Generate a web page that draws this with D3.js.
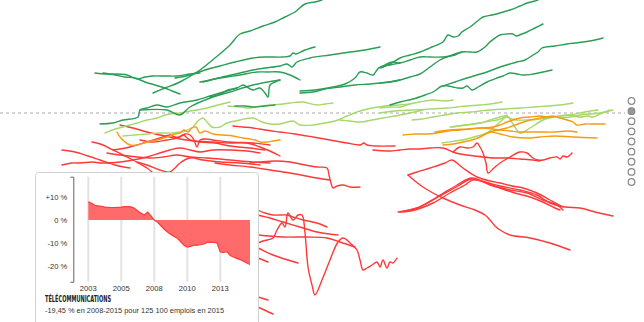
<!DOCTYPE html>
<html><head><meta charset="utf-8">
<script src="https://cdn.jsdelivr.net/npm/d3@7"></script>
<style>body{margin:0;background:#fff;}svg{display:block;font-family:"Liberation Sans",Arial,sans-serif;}</style>
</head><body><svg id="c" width="644" height="322"></svg>
<script>
// Sector trajectories: [position, % change] pairs
const darkGreen = [
 [[76.5,10],[82.5,12.5],[90,15.5],[100,21.5],[107.5,27.5],[115,34],[120,39.5],[125,41],[131.5,43.5],[137.5,45.5],[142.5,48],[147.5,50.5],[152.5,54.5],[157.5,55.5],[161,56.5]],
 [[47.5,20],[52.5,19.5],[57.5,19.5],[63.5,19],[69,17],[72.5,18],[76.5,18.5],[82.5,18.5],[88.5,18.5],[95,19.5],[100,20]],
 [[51.5,20],[57.5,19],[62.5,18],[67.5,17.5],[72.5,15.5],[77.5,14],[82.5,12.5],[86,11],[90,9.5]],
 [[87.5,17.5],[95,19],[102.5,21.5],[110,23.5],[117.5,25.5],[126.5,27.5],[132.5,28],[141.5,28],[145,28.5],[146.5,30],[148,29.5],[152.5,31.5],[157.5,33]],
 [[100,15.5],[105,16.5],[113.5,18.5],[120,20],[126.5,21.5],[132.5,22.5],[140,23.5],[143.5,24.5],[146,23],[148.5,25.5],[155,27.5],[165,29],[175,30.5],[182.5,31.5],[190,33]],
 [[101.5,15.5],[107.5,17],[113.5,18],[120,19],[128.5,20.5],[133.5,20.5],[140,20.5],[145,19],[150,16.5]],
 [[105,8],[109,9],[114,11.5],[118.5,12.5],[121.5,14],[123.5,13],[126.5,11.5],[130,12.5],[132.5,10],[134,8],[135,14],[137.5,15.5],[140,16.5]],
 [[50,-5.5],[56.5,-5],[61.5,-3.5],[69,-2],[70,1.5],[73.5,2.5],[78.5,4],[83.5,3],[90,5],[98.5,6.5],[105,8.5],[110,10],[115,11.5],[118.5,12.5]],
 [[70,1.5],[83.5,1.5],[90,-1],[95,3],[106.5,8],[115,10.5],[126.5,14],[140,16.5]],
 [[150,11],[157.5,11.5],[166.5,13],[172.5,14.5],[177.5,17.5],[180,20.5],[183.5,20],[186.5,19],[188.5,21.5],[190,23],[195,24],[200,25]],
 [[150,10],[156.5,10.5],[162.5,12],[170,13],[177.5,14],[185,14.5],[190,15],[197.5,16],[200,16.5]],
 [[190,22.5],[195,24.5],[200,27.5],[205,29],[210,30.5],[216,33],[221.5,35.5],[224,39],[226.5,38],[229,38.5],[231,40.5],[235,43],[240,47],[241.5,48],[246,49],[250,50],[255,51.5],[260,53.5],[263.5,55],[267.5,56],[269,56.5]],
 [[191.5,23.5],[196,25.5],[200,25],[205,26.5],[210,28],[215,28],[221.5,28],[227.5,29],[231,30.5],[235,30.5],[238.5,30.5],[242.5,33],[245,35.5],[250,39],[253.5,39.5],[256.5,39.5],[258,38.5],[261,39.5],[263.5,40.5],[267.5,42.5],[271.5,44.5]],
 [[190,15],[195,15.5],[200,16.5],[205,18],[210,19.5],[215,23],[220,26.5],[223.5,28],[227.5,29.5],[231,30.5]],
 [[221.5,13.5],[227.5,15.5],[233.5,17.5],[238.5,19],[243.5,20.5],[250,23],[255,24.5],[258.5,25.5],[262.5,26.5],[266.5,29],[269,30.5],[271,32.5],[277.5,33.5],[283.5,34.5],[287.5,35],[291.5,35.5],[297.5,36.5],[301.5,37.5]],
 [[195,4],[200,5.5],[206.5,7],[212.5,9],[216.5,10.5],[221,13.5],[224,13.5],[226.5,13],[229,12.5],[231.5,12.5],[233.5,13.5],[236,11.5],[239,13],[243.5,15.5],[248.5,17.5],[251.5,18.5],[255,20],[258.5,19.5],[261.5,19],[266.5,19.5],[271.5,20.5],[276,21.5]],
 [[117.5,3.5],[122.5,3.5],[127.5,3],[132.5,3.5],[137.5,4]]
];
const lightGreen = [
 [[52.5,-10],[57.5,-8],[61.5,-7],[65,-6],[68.5,-5],[73.5,-3.5],[78.5,-2.5],[82.5,-1],[85,-0.5],[90,0],[95,1],[98.5,1.5],[103.5,2.5],[109,4],[115,5.5]],
 [[61.5,-11.5],[67.5,-11],[73.5,-10.5],[80,-10],[86,-10],[92.5,-9],[96.5,-7],[99,-4],[101.5,-2.5],[103.5,-4.5],[106,-7],[110,-7],[113.5,-5],[120,-3.5],[126.5,-2.5],[131,-4.5],[135,-5.5],[140,-5.5],[146.5,-4],[150,-6],[156.5,-6],[162.5,-5],[167.5,-4],[173.5,-1.5],[180,1],[186,2.5],[192.5,3.5],[199,4],[205,4.5]],
 [[114,3.5],[120,3],[125,2.5],[130,3.5],[135,4],[141.5,4.5],[145,5],[151.5,5.5],[158.5,4],[162.5,4.5],[166.5,5]],
 [[170,-3.5],[175,-4],[180,-4.5],[186,-3.5],[191.5,-2.5],[197.5,-1.5],[205,0],[211.5,1.5]],
 [[190,2.5],[195,3],[200,3],[205,4.5],[210,5.5],[216.5,6.5],[222.5,6],[226.5,6.5]],
 [[190,0],[197.5,1],[206.5,1.5],[215,2],[223.5,2.5],[228.5,3],[233.5,3.5],[240,4],[245,4.5],[251,5.5]],
 [[206,-3.5],[211,-3],[216.5,-2],[222.5,-1],[228.5,0],[235,0.5],[240,1],[245,1.5],[252.5,2],[260,2.5],[267.5,3],[273.5,3.5],[280,4],[286.5,5]],
 [[226,-7],[232.5,-6],[240,-5],[245,-4],[248.5,-3.5],[251.5,-2.5],[253.5,-2],[256,-3],[258.5,-3.5],[264,-3.5],[270,-3],[276.5,-2],[283.5,-1],[287.5,-1.5],[290,-2],[294,-1.5],[296.5,-2],[300,-0.5],[305,1.5]],
 [[225,-7],[233.5,-6],[240,-5],[245,-3.5],[250,-2],[253.5,-1.5],[256.5,-5.5],[260,-10],[265,-7.5],[271.5,-3.5],[277.5,-2],[285,-1],[292.5,0.5],[299,1.5]],
 [[221,-15],[227.5,-14],[233.5,-13],[238.5,-11.5],[243.5,-10],[246.5,-7.5],[250,-4.5],[253.5,-1]],
 [[280,-2.5],[285,-2],[290,-1],[295,-0.5],[300,0],[306.5,1.5]]
];
const orange = [
 [[58.5,-9.5],[60,-12],[62,-14],[65,-16],[68.5,-16],[73.5,-14.5],[78.5,-13.5],[83.5,-12],[87.5,-10.5],[90,-10],[92,-8.5],[94,-9.5],[96,-7.5],[98,-7],[100,-10],[102.5,-9],[106.5,-10.5],[111.5,-11],[116.5,-11.5],[121.5,-12.5],[125,-13],[127.5,-13.5],[130,-14.5],[133.5,-14.5],[136.5,-14],[140,-13.5]],
 [[201.5,-11],[207.5,-10.5],[213.5,-10.5],[218.5,-10],[224,-9],[230,-8.5],[235,-8],[240,-7.5],[246.5,-7],[250,-6],[253.5,-4.5],[256.5,-3.5],[260,-2.5],[265,-2],[270,-1.5],[273.5,-2],[276,-1.5],[280,-2.5],[283.5,-3.5],[286.5,-4.5],[288.5,-6],[292.5,-5.5],[297.5,-5.5],[302.5,-5.5]],
 [[217.5,-9.5],[225,-8.5],[233.5,-8],[241.5,-7.5],[246,-8],[250,-8.5],[255,-9],[260,-9.5],[265,-9.5],[270,-9.5],[277.5,-9.5],[283.5,-9],[288.5,-9.5]],
 [[240,-12],[245,-9.5],[250,-10.5],[256.5,-12],[263.5,-12.5],[270,-12],[277.5,-11.5],[286.5,-12],[298.5,-12.5]],
 [[221.5,-16],[226.5,-15.5],[231.5,-14.5],[236,-13.5],[240,-12],[245,-9.5],[249,-8.5],[253.5,-7.5],[259,-5.5],[265,-3.5],[270,-2.5],[273.5,-2],[276.5,-2]]
];
const red = [
 [[60,-6],[66.5,-7.5],[73.5,-9.5],[80,-11],[85,-12],[90,-13],[97.5,-14],[106.5,-14.5],[115,-15],[123.5,-15],[130,-17],[135,-19],[140,-21.5]],
 [[116.5,-6.5],[121.5,-7],[126.5,-7.5],[132.5,-8.5],[140,-9.5],[147.5,-10.5],[156.5,-12],[165,-13.5],[173.5,-15],[180,-16],[182,-15],[183.5,-16],[187.5,-16.5],[197.5,-16.5]],
 [[46,-14.5],[51.5,-16],[56.5,-18.5],[61.5,-21],[66.5,-23.5],[70,-25.5],[73.5,-27.5],[76,-29.5]],
 [[31,-26],[36,-25],[40,-25],[46.5,-24.5],[50,-25],[60,-24.5],[66.5,-23.5],[73.5,-22],[80,-20],[85,-18.5],[90,-17.5],[95,-18.5],[100,-19.5],[106.5,-18.5],[115,-18.5],[123.5,-19],[130,-20]],
 [[56.5,-18.5],[65,-17],[73.5,-14.5],[80,-12.5],[85,-11],[87.5,-12],[90,-12],[92.5,-10.5],[95,-11],[97,-13.5],[98.5,-17],[100,-13.5],[103,-13],[106.5,-13.5],[115,-14.5],[126.5,-15],[135,-16]],
 [[53.5,-20],[60,-21],[68.5,-22],[75,-22.5],[81.5,-22],[88.5,-21],[95,-22],[103.5,-22.5],[115,-23.5],[126.5,-24.5],[135,-25]],
 [[68.5,-24.5],[73.5,-26],[80,-28.5],[83.5,-29.5],[85,-29.5],[87.5,-27.5],[90,-25],[95,-22.5],[101.5,-23.5],[110,-24.5],[120,-25],[130,-26]],
 [[70,-13.5],[76.5,-14.5],[83.5,-13.5],[88.5,-12.5],[91.5,-11],[95,-13.5],[100,-14.5],[107.5,-15],[115,-16.5],[125,-17.5],[132.5,-18.5]],
 [[125,-25],[130,-24.5],[137.5,-24],[145,-24.5],[152.5,-26],[158.5,-27],[163.5,-27.5],[164.5,-31],[165.5,-35],[166.5,-37.5],[168.5,-36.5],[171.5,-36],[175,-37],[180,-37]],
 [[107.5,-25],[115,-26],[125,-27],[135,-28.5],[145,-30],[158.5,-32.5],[165,-33.5]],
 [[186.5,-18.5],[195,-19],[200,-18.5],[205,-18],[210,-18],[215,-17.5],[221.5,-17.5],[226.5,-19.5],[230,-20.5],[233.5,-21],[241.5,-22],[247.5,-22.5],[253.5,-22.5],[260,-23],[266.5,-23.5],[270,-24]],
 [[226.5,-19.5],[230,-17],[233.5,-17.5],[236.5,-17],[238.5,-15],[240,-17],[241.5,-20],[243,-25],[244,-30],[247,-27.5],[250,-25],[255,-22],[260,-19.5],[263.5,-20],[266.5,-22.5],[269,-23.5],[271.5,-23.5],[275,-22.5],[278.5,-22],[280,-23],[281.5,-21.5],[283.5,-22],[285,-21],[286,-20]],
 [[199,-49.5],[208.5,-47.5],[218.5,-42],[228.5,-36],[236,-32.5],[245,-36],[255,-38.5],[263.5,-40],[271.5,-43.5],[278.5,-46],[281.5,-48.5]],
 [[200,-49.5],[207.5,-48.5],[216.5,-45],[225,-40],[232.5,-36],[236.5,-33.5],[243.5,-35],[250,-37.5],[257.5,-40],[265,-42],[272.5,-45],[277.5,-47.5],[280,-48.5]],
 [[202.5,-49],[210,-47],[220,-41.5],[229,-36.5],[235.5,-33],[242.5,-34.5],[250,-36.5],[260,-38.5],[268.5,-41],[275,-45],[282.5,-47],[290,-47.5],[297.5,-49.5],[306.5,-51.5]],
 [[204,-31],[207.5,-34],[211.5,-37],[216.5,-40],[221.5,-42.5],[230,-46],[237.5,-48.5],[242.5,-51],[245,-53.5],[247.5,-56.5],[250,-58.5],[255,-61],[265,-62.5],[275,-65],[285,-68.5]],
 [[204,-31],[208.5,-29.5],[215,-27.5],[222.5,-25],[226,-23.5],[231.5,-27.5],[238.5,-32],[245,-34],[250,-35],[256,-36.5],[261.5,-37.5],[268.5,-40],[275,-43.5],[281.5,-47]],
 [[125,-46],[129,-48.5],[132.5,-50],[136.5,-51],[143.5,-51],[146.5,-52],[151.5,-53.5],[158.5,-55],[163.5,-57]],
 [[125,-49.5],[129,-51],[135,-52.5],[141.5,-54.5],[150,-57],[158.5,-59.5],[169,-61]],
 [[129,-65],[131.5,-64],[133.5,-63.5],[136.5,-62.5],[138.5,-58.5],[141,-55],[142.5,-57],[144,-50],[146.5,-53.5],[149,-51],[151,-51],[152.5,-60],[154,-77],[156,-86],[157.5,-91],[161,-83.5],[165,-73.5],[169,-64.5],[171.5,-62.5],[173.5,-63.5],[175,-65],[178.5,-68.5],[180,-73.5],[181.5,-78.5],[183.5,-77.5],[186,-76],[188.5,-74.5],[190,-77],[191.5,-73.5],[193.5,-77.5],[195,-74.5],[196.5,-75],[198.5,-72.5]],
 [[125,-66],[129,-67.5],[136.5,-71],[149,-75]],
 [[125,-71],[129,-72.5],[134,-74.5]],
 [[125,-90.5],[129,-92],[134,-93.5]],
 [[125,-60.5],[129,-61],[141.5,-62],[153.5,-62],[163.5,-62.5],[170,-64.5],[177.5,-67]],
 [[125,-95],[129,-97],[136.5,-100.5]],
 [[31,-18.5],[37.5,-19.5],[44,-21.5],[50,-23.5],[57.5,-26],[65,-27.5]]
];
// Tooltip: Télécommunications, % change vs 2008, quarterly 2003Q1–2015Q2
const telecomValues = [8.0,7.3,6.5,6.2,6.0,5.7,5.6,5.5,5.5,5.6,5.7,5.9,5.9,5.8,5.2,4.0,3.0,2.2,3.5,1.8,0,-1.0,-2.5,-4.0,-5.2,-6.3,-7.2,-8.0,-9.5,-11.0,-11.8,-11.5,-11.0,-11.0,-10.8,-10.5,-9.8,-9.8,-9.8,-10.0,-14.0,-14.2,-13.8,-15.5,-16.2,-16.8,-17.3,-18.0,-18.8,-19.5];
const xTickIndex = [0,10,20,30,40];
const xTickLabels = ["2003","2005","2008","2010","2013"];
const yTicks = [10,0,-10,-20];
const sectorTitle = "TÉLÉCOMMUNICATIONS";
const sectorText = "-19,45 % en 2008-2015 pour 125 100 emplois en 2015";
const pageDots = [0,1,2,3,4,5,6,7,8];
const activeDot = 1;

const svg = d3.select("#c");
const x = d3.scaleLinear().domain([0,322]).range([0,644]);
const y = d3.scaleLinear().domain([56.5,-104.5]).range([0,322]);

svg.append("line").attr("x1",x(0)).attr("x2",x(312.5)).attr("y1",y(0)).attr("y2",y(0))
  .attr("stroke","#c8c8c8").attr("stroke-width",1.5).attr("stroke-dasharray","3,3");

const line = d3.line().x(d=>x(d[0])).y(d=>y(d[1])).curve(d3.curveCatmullRom.alpha(0.5));
function draw(data,color){
  svg.append("g").selectAll("path").data(data).join("path")
    .attr("d",line).attr("fill","none").attr("stroke",color).attr("stroke-width",1.4)
    .attr("stroke-linejoin","round").attr("stroke-linecap","round");
}
draw(red,"#ff3838");
draw(lightGreen,"#a6d86a");
draw(orange,"#f59c12");
draw(darkGreen,"#2a9e57");

const dy = d3.scalePoint().domain(pageDots).range([101,182]);
svg.append("g").selectAll("circle").data(pageDots).join("circle")
  .attr("cx",631.5).attr("cy",d=>dy(d)).attr("r",3.3)
  .attr("fill",d=>d===activeDot?"#999":"#fff").attr("stroke","#888").attr("stroke-width",1.2);

// Tooltip
const tip = svg.append("g");
tip.append("rect").attr("x",35.5).attr("y",172.5).attr("width",223).attr("height",160).attr("rx",3)
  .attr("fill","#fff").attr("stroke","#d2d2d2");
const tx = d3.scaleLinear().domain([0,49]).range([88.3,250]);
const ty = d3.scaleLinear().domain([-27,19]).range([281.7,176.7]);
tip.append("g").selectAll("line").data(xTickIndex).join("line")
  .attr("x1",d=>tx(d)).attr("x2",d=>tx(d)).attr("y1",ty(19)).attr("y2",ty(-27))
  .attr("stroke","#e2e2e2").attr("stroke-width",2);
const area = d3.area().x((d,i)=>tx(i)).y0(ty(0)).y1(d=>ty(d));
tip.append("path").datum(telecomValues).attr("d",area).attr("fill","#ff6b6b");
tip.append("path").datum(telecomValues).attr("d",d3.line().x((d,i)=>tx(i)).y(d=>ty(d)))
  .attr("fill","none").attr("stroke","#ff3a3a").attr("stroke-width",1.2);
const ax = tip.append("g").attr("transform","translate(73.3,0)")
  .call(d3.axisLeft(ty).tickValues(yTicks).tickFormat(d=>(d>0?"+":"")+d+" %").tickSizeInner(0).tickSizeOuter(3).tickPadding(6));
ax.select(".domain").attr("stroke","#666");
ax.selectAll("text").attr("font-size",7.6).attr("fill","#333").attr("font-family","Liberation Sans, Arial");
tip.append("g").selectAll("text").data(xTickIndex).join("text")
  .attr("x",d=>tx(d)).attr("y",290.5).attr("text-anchor","middle").attr("font-size",7.6).attr("fill","#333")
  .text((d,i)=>xTickLabels[i]);
tip.append("text").attr("x",45).attr("y",301.5).attr("font-size",9).attr("font-weight","bold")
  .attr("font-family","DejaVu Sans Condensed, Liberation Sans Narrow, sans-serif").attr("fill","#222")
  .attr("textLength",66).attr("lengthAdjust","spacingAndGlyphs").text(sectorTitle);
tip.append("text").attr("x",45).attr("y",313).attr("font-size",7.6).attr("fill","#333")
  .attr("textLength",179).attr("lengthAdjust","spacingAndGlyphs").text(sectorText);
</script></body></html>
